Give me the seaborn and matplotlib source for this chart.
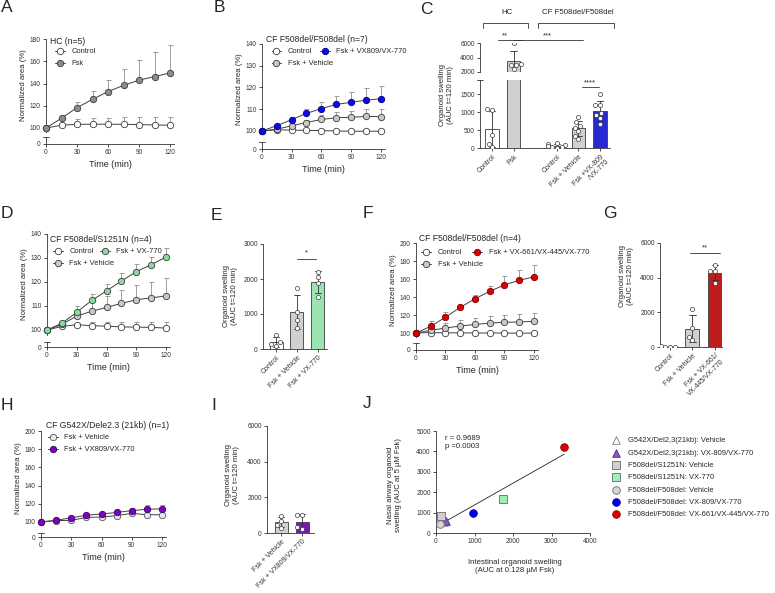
import numpy as np
import pandas as pd
import matplotlib
matplotlib.use("Agg")
import matplotlib.pyplot as plt
import seaborn as sns
from matplotlib.legend import Legend

# ---------------- data ----------------
times = [0, 15, 30, 45, 60, 75, 90, 105, 120]

# A  HC (n=5)
a_control = [100, 102.5, 103.3, 103.4, 103.4, 103.3, 103.1, 102.7, 102.5]
a_control_sd = [0, 5, 4.5, 5.5, 6, 6.3, 6.5, 7, 7.2]
a_fsk = [100, 108.8, 118.3, 125.8, 132.7, 138.3, 143.0, 146.2, 149.5]
a_fsk_sd = [0, 1.5, 5, 7.5, 10.5, 15, 18.5, 22, 25]

# B  CF F508del/F508del (n=7)
b_control = [100, 100.6, 100.4, 100.3, 100.2, 100.0, 99.9, 99.9, 99.9]
b_control_sd = [0, 0.5, 0.6, 0.6, 0.7, 0.8, 0.8, 0.9, 1.0]
b_vehicle = [100, 100.8, 102.4, 103.9, 105.3, 106.1, 106.3, 106.7, 106.6]
b_vehicle_sd = [0, 0.5, 1.0, 1.3, 2.0, 2.6, 2.9, 3.4, 3.5]
b_vx809 = [100, 102.4, 105.2, 108.1, 110.3, 112.2, 113.2, 114.2, 114.8]
b_vx809_sd = [0, 0.4, 1.4, 2.0, 3.2, 3.8, 4.9, 5.4, 6.0]

# D  CF F508del/S1251N (n=4)
d_control = [100, 101.5, 102.2, 101.8, 101.6, 101.3, 101.2, 101.1, 100.8]
d_control_sd = [0, 1.5, 0.8, 1.4, 1.9, 2.2, 2.3, 2.4, 2.7]
d_vehicle = [100, 102.4, 105.8, 107.8, 109.4, 111.1, 112.6, 113.4, 114.2]
d_vehicle_sd = [0, 1.1, 1.7, 4.4, 4.6, 5.4, 6.2, 6.8, 7.5]
d_vx770 = [100, 102.8, 107.4, 112.3, 116.3, 120.4, 124.3, 127.2, 130.4]
d_vx770_sd = [0, 0.7, 2.6, 2.8, 2.8, 3.4, 3.1, 3.2, 3.6]

# F  CF F508del/F508del (n=4)
f_control = [100, 100.4, 100.2, 100.2, 100.0, 100.0, 100.0, 99.8, 99.9]
f_control_sd = [0, 0.5, 0.5, 0.5, 0.5, 0.5, 0.5, 0.5, 0.5]
f_vehicle = [100, 103.0, 105.5, 107.8, 109.5, 111.0, 112.0, 112.2, 113.0]
f_vehicle_sd = [0, 4, 5.5, 6.2, 7.5, 8, 8.5, 8.8, 9]
f_triple = [100, 107.5, 117.5, 128.5, 138.0, 146.3, 153.5, 158.5, 162.5]
f_triple_sd = [0, 5.5, 5.5, 1.5, 4, 5.7, 10, 11.5, 13]

# H  CF G542X/Dele2.3 (21kb) (n=1)
h_vehicle = [100, 101.5, 101.8, 105.0, 105.5, 107.0, 109.5, 108.0, 108.0]
h_vehicle_sd = [0, 0.5, 0.5, 0.8, 0.8, 1.0, 1.5, 1.0, 1.0]
h_vx809 = [100, 102.0, 104.5, 107.5, 108.8, 110.5, 112.5, 114.0, 114.5]
h_vx809_sd = [0, 1, 1, 1, 1.2, 1.5, 3, 4.5, 4]

# C  AUC bars (individual organoid points)
c_groups = ["HC Control", "HC Fsk", "CF Control", "CF Fsk + Vehicle", "CF Fsk + VX-809/VX-770"]
c_ticklabels = ["Control", "Fsk", "Control", "Fsk + Vehicle", "Fsk +VX-809\n/VX-770"]
c_values = [
    [1090, 1050, 350, 120, 20],
    [6000, 3100, 3000, 2950, 2400],
    [150, 110, 80, 60, 40, 20, 10],
    [860, 720, 620, 560, 460, 340, 240],
    [1500, 1200, 1190, 970, 920, 830, 670],
]

# E
e_groups = ["Control", "Fsk + Vehicle", "Fsk + VX-770"]
e_values = [[400, 190, 130, 100], [1740, 1070, 840, 600], [2210, 2050, 1900, 1500]]

# G
g_groups = ["Control", "Fsk + Vehicle", "Fsk + VX-661/\nVX-445/VX-770"]
g_values = [[30, 20, 15, 10], [2180, 1080, 600, 400], [4750, 4360, 4360, 3690]]

# I
i_groups = ["Fsk + Vehicle", "Fsk + VX809/VX-770"]
i_values = [[980, 700, 450, 300], [990, 990, 340, 240]]

# J  correlation
j_groups = ["G542X/Del2,3(21kb): Vehicle", "G542X/Del2,3(21kb): VX-809/VX-770",
            "F508del/S1251N: Vehicle", "F508del/S1251N: VX-770",
            "F508del/F508del: Vehicle", "F508del/F508del: VX-809/VX-770",
            "F508del/F508del: VX-661/VX-445/VX-770"]
j_intestinal = [200, 250, 130, 1750, 110, 950, 3330]
j_nasal = [540, 600, 850, 1680, 460, 980, 4200]

# ---------------- style ----------------
sns.set_style("ticks")
plt.rcParams["font.family"] = ["Liberation Sans", "DejaVu Sans"]
plt.rcParams["axes.facecolor"] = "none"
plt.rcParams["axes.linewidth"] = 0.6
plt.rcParams["axes.edgecolor"] = "#333333"
for t in ("xtick", "ytick"):
    plt.rcParams[t + ".major.width"] = 0.6
    plt.rcParams[t + ".major.size"] = 2.2
    plt.rcParams[t + ".major.pad"] = 1.5
    plt.rcParams[t + ".labelsize"] = 4.7
    plt.rcParams[t + ".color"] = "#333333"

GREY = "#d0d0d0"
EDGE = "#3c3c3c"
BLUE = "#0a0af0"
GREEN = "#8ff0ae"
RED = "#dd0000"
PURPLE = "#8000c8"

W, H = 775, 593
fig = plt.figure(figsize=(W / 100, H / 100), dpi=100)


def px_axes(left, top, right, bottom):
    return fig.add_axes([left / W, 1 - bottom / H, (right - left) / W, (bottom - top) / H])


def fig_text(x, y, s, **kw):
    fig.text(x / W, 1 - y / H, s, **kw)


def top_cap(ax, width_px):
    f = 3 / width_px
    ax.plot([-f, f], [1, 1], transform=ax.transAxes, color="#333333", lw=0.6, clip_on=False)


def time_panel(x0, x120, y_top, y100, y_base, y_low, y_zero, ymax, yticks,
               series, title, title_xy, columns):
    ppm = (x120 - x0) / 120
    right = x0 + 124 * ppm
    ppu = (y100 - y_top) / (ymax - 100)
    ax = px_axes(x0, y_top, right, y_base)
    low = px_axes(x0, y_low, right, y_zero)
    for name, mean, sd, face, edge in series:
        ax.errorbar(times, mean, yerr=[np.zeros(len(sd)), sd], fmt="none", ecolor="#8e8e8e",
                    elinewidth=0.6, capsize=1.8, capthick=0.6, zorder=2, clip_on=False)
        sns.lineplot(x=times, y=mean, ax=ax, color="#404040", linewidth=0.7, marker="o",
                     markersize=4.6, markerfacecolor=face, markeredgecolor=edge,
                     markeredgewidth=0.6, label=name, zorder=3, clip_on=False, legend=False)
    ax.set_xlim(0, 124)
    ax.set_ylim(100 - (y_base - y100) / ppu, ymax)
    ax.set_yticks(yticks)
    ax.set_xticks([])
    sns.despine(ax=ax, bottom=True)
    ax.set_ylabel("Normalized area (%)", fontsize=5.6, labelpad=2)
    low.set_xlim(0, 124)
    low.set_ylim(0, 1)
    low.set_yticks([0])
    low.set_xticks(times[::2])
    sns.despine(ax=low)
    low.set_xlabel("Time (min)", fontsize=6.5, labelpad=3)
    top_cap(low, right - x0)
    fig_text(title_xy[0], title_xy[1], title, fontsize=6.2, va="center")
    handles, labels = ax.get_legend_handles_labels()
    lookup = dict(zip(labels, handles))
    for names, lx, ly in columns:
        leg = Legend(ax, [lookup[n] for n in names], names, loc="upper left",
                     bbox_to_anchor=(lx / W, 1 - ly / H), bbox_transform=fig.transFigure,
                     frameon=False, fontsize=5.4, handlelength=1.3, handletextpad=0.85,
                     labelspacing=0.65, borderpad=0, borderaxespad=0)
        ax.add_artist(leg)
    return ax, low


def bar_panel(ax, groups, values, colors, order):
    df = pd.DataFrame({"group": np.repeat(groups, [len(v) for v in values]),
                       "value": np.concatenate(values)})
    sns.barplot(data=df, x="group", y="value", order=order, hue="group", hue_order=groups,
                palette=dict(zip(groups, colors)), errorbar="sd", capsize=0.3,
                err_kws={"linewidth": 0.6, "color": "#303030"}, edgecolor=EDGE,
                linewidth=0.6, width=0.62, legend=False, ax=ax)
    sns.swarmplot(data=df, x="group", y="value", order=order, color="white",
                  edgecolor=EDGE, linewidth=0.5, size=3, ax=ax)
    ax.set_xlabel("")
    ax.set_ylabel("")
    sns.despine(ax=ax)


def sig(ax, x1, x2, y, stars, xt, off):
    ax.plot([x1, x2], [y, y], color="#333333", lw=0.6, clip_on=False)
    ax.annotate(stars, (xt, y), xytext=(0, off), textcoords="offset points", ha="center",
                va="baseline", fontsize=5.5, annotation_clip=False)


def rot_labels(ax, ticks, labels):
    ax.set_xticks(ticks)
    ax.set_xticklabels(labels, rotation=45, ha="right", rotation_mode="anchor", fontsize=5)


# ---------------- A ----------------
time_panel(46, 170, 39, 128, 131.5, 137, 144, 180, [100, 120, 140, 160, 180],
           [("Control", a_control, a_control_sd, "white", EDGE),
            ("Fsk", a_fsk, a_fsk_sd, "#8c8c8c", EDGE)],
           "HC (n=5)", (50, 41), [(["Control", "Fsk"], 55, 48)])

# ---------------- B ----------------
time_panel(261.7, 381, 44, 131, 133.5, 142, 149, 140, [100, 110, 120, 130, 140],
           [("Control", b_control, b_control_sd, "white", EDGE),
            ("Fsk + Vehicle", b_vehicle, b_vehicle_sd, "#c8c8c8", EDGE),
            ("Fsk + VX809/VX-770", b_vx809, b_vx809_sd, BLUE, "#00008a")],
           "CF F508del/F508del (n=7)", (266, 40),
           [(["Control", "Fsk + Vehicle"], 271.5, 48), (["Fsk + VX809/VX-770"], 320, 48)])

# ---------------- C ----------------
c_order = [c_groups[0], c_groups[1], "gap", c_groups[2], c_groups[3], c_groups[4]]
c_colors = ["white", GREY, "white", GREY, BLUE]
ax_cu = px_axes(480, 43, 610, 72)
ax_cl = px_axes(480, 80, 610, 148)
for ax in (ax_cu, ax_cl):
    bar_panel(ax, c_groups, c_values, c_colors, c_order)
    ax.set_xlim(-0.556, 5.463)
ax_cu.set_ylim(2000, 6000)
ax_cu.set_yticks([2000, 4000, 6000])
ax_cu.set_xticks([])
sns.despine(ax=ax_cu, bottom=True)
ax_cl.set_ylim(0, 1890)
ax_cl.set_yticks([0, 500, 1000, 1500])
top_cap(ax_cl, 130)
rot_labels(ax_cl, [0, 1, 3, 4, 5], c_ticklabels)
for x1, x2, lab, xl in [(-0.42, 1.67, "HC", 0.69), (2.13, 5.65, "CF F508del/F508del", 3.98)]:
    ax_cu.plot([x1, x1, x2, x2], [8070, 8760, 8760, 8070], color="#333333", lw=0.6, clip_on=False)
    ax_cu.text(xl, 10140, lab, ha="center", va="center", fontsize=5.7)
sig(ax_cu, 0.28, 1.4, 6414, "**", 0.6, 2)
sig(ax_cu, 1.0, 4.2, 6414, "***", 2.56, 2)
sig(ax_cl, 4.17, 4.94, 1708, "****", 4.55, 1.5)
fig_text(446.5, 95, "Organoid swelling\n(AUC t=120 min)", rotation=90, ha="center",
         va="center", fontsize=5.6)

# ---------------- D ----------------
time_panel(47, 166, 234, 330, 335, 342, 347, 140, [100, 110, 120, 130, 140],
           [("Control", d_control, d_control_sd, "white", EDGE),
            ("Fsk + Vehicle", d_vehicle, d_vehicle_sd, "#c8c8c8", EDGE),
            ("Fsk + VX-770", d_vx770, d_vx770_sd, "#86dca0", EDGE)],
           "CF F508del/S1251N (n=4)", (50.5, 239),
           [(["Control", "Fsk + Vehicle"], 53, 248), (["Fsk + VX-770"], 100, 248)])

# ---------------- E ----------------
ax_e = px_axes(263, 244, 327, 349)
bar_panel(ax_e, e_groups, e_values, ["white", GREY, GREEN], e_groups)
ax_e.set_xlim(-0.62, 2.43)
ax_e.set_ylim(0, 3000)
ax_e.set_yticks([0, 1000, 2000, 3000])
rot_labels(ax_e, [0, 1, 2], e_groups)
sig(ax_e, 0.98, 1.9, 2571, "*", 1.44, 3.3)
fig_text(231, 296, "Organoid swelling\n(AUC t=120 min)", rotation=90, ha="center",
         va="center", fontsize=5.6)

# ---------------- F ----------------
time_panel(416, 534, 243, 333, 337, 343, 350, 200, [100, 120, 140, 160, 180, 200],
           [("Control", f_control, f_control_sd, "white", EDGE),
            ("Fsk + Vehicle", f_vehicle, f_vehicle_sd, "#c8c8c8", EDGE),
            ("Fsk + VX-661/VX-445/VX-770", f_triple, f_triple_sd, RED, "#7a0000")],
           "CF F508del/F508del (n=4)", (419, 238),
           [(["Control", "Fsk + Vehicle"], 421.5, 249),
            (["Fsk + VX-661/VX-445/VX-770"], 472.5, 249)])

# ---------------- G ----------------
ax_g = px_axes(660, 243, 722, 347)
bar_panel(ax_g, g_groups, g_values, ["white", GREY, RED], g_groups)
ax_g.set_xlim(-0.44, 2.31)
ax_g.set_ylim(0, 6000)
ax_g.set_yticks([0, 2000, 4000, 6000])
rot_labels(ax_g, [0, 1, 2], g_groups)
sig(ax_g, 0.9, 2.2, 5423, "**", 1.55, 2.6)
fig_text(626, 276, "Organoid swelling\n(AUC t=120 min)", rotation=90, ha="center",
         va="center", fontsize=5.6)

# ---------------- H ----------------
time_panel(41, 162, 431, 522, 525, 533, 537, 200, [100, 120, 140, 160, 180, 200],
           [("Fsk + Vehicle", h_vehicle, h_vehicle_sd, "#e8e8e8", "#555555"),
            ("Fsk + VX809/VX-770", h_vx809, h_vx809_sd, PURPLE, "#3c005c")],
           "CF G542X/Dele2.3 (21kb) (n=1)", (46, 426),
           [(["Fsk + Vehicle", "Fsk + VX809/VX-770"], 48, 434)])

# ---------------- I ----------------
ax_i = px_axes(267, 426, 314, 533)
bar_panel(ax_i, i_groups, i_values, [GREY, PURPLE], i_groups)
ax_i.set_xlim(-0.67, 1.57)
ax_i.set_ylim(0, 6000)
ax_i.set_yticks([0, 2000, 4000, 6000])
rot_labels(ax_i, [0, 1], i_groups)
fig_text(232.5, 475, "Organoid swelling\n(AUC t=120 min)", rotation=90, ha="center",
         va="center", fontsize=5.6)

# ---------------- J ----------------
ax_j = px_axes(436, 431, 590, 533)
j_markers = ["^", "^", "s", "s", "o", "o", "o"]
j_face = ["white", "#8a55c8", "#cfcfcf", "#9eefb6", "#d6d6d6", "#0000f0", "#e00000"]
j_edge = ["#7a7a7a", "#4a2a7a", "#6a6a6a", "#6a6a6a", "#6a6a6a", "#00008a", "#8a0000"]
sns.regplot(x=j_intestinal, y=j_nasal, ci=None, scatter=False, ax=ax_j,
            line_kws={"color": "#222222", "lw": 0.6})
for lab, xi, yi, m, fc, ec in zip(j_groups, j_intestinal, j_nasal, j_markers, j_face, j_edge):
    sns.scatterplot(x=[xi], y=[yi], marker=m, color=fc, edgecolor=ec, linewidth=0.6, s=30,
                    label=lab, ax=ax_j, clip_on=False, zorder=3, legend=False)
ax_j.set_xlim(0, 4000)
ax_j.set_ylim(0, 5000)
ax_j.set_xticks([0, 1000, 2000, 3000, 4000])
ax_j.set_yticks([0, 1000, 2000, 3000, 4000, 5000])
sns.despine(ax=ax_j)
h, l = ax_j.get_legend_handles_labels()
leg = Legend(ax_j, h, l, loc="upper left", bbox_to_anchor=(613 / W, 1 - 437 / H),
             bbox_transform=fig.transFigure, frameon=False, fontsize=5.4, handlelength=0.9,
             handletextpad=1.1, labelspacing=0.68, borderpad=0, borderaxespad=0)
ax_j.add_artist(leg)
fig_text(445, 438, "r = 0.9689", fontsize=5.6, va="center")
fig_text(445, 447, "p =0.0003", fontsize=5.6, va="center")
fig_text(395, 485, "Nasal airway organoid\nswelling (AUC at 5 \u00b5M Fsk)", rotation=90,
         ha="center", va="center", fontsize=5.6)
fig_text(515, 567, "Intestinal organoid swelling\n(AUC at 0.128 \u00b5M Fsk)", ha="center",
         va="center", fontsize=5.6)

# ---------------- panel letters ----------------
for letter, x, y in [("A", 1, 8), ("B", 214, 8), ("C", 420, 9), ("D", 1, 213), ("E", 211, 215),
                     ("F", 363, 213), ("G", 603, 214), ("H", 1, 406), ("I", 211, 406),
                     ("J", 363, 404)]:
    fig_text(x, y, letter, fontsize=12.5, va="center", ha="left")

fig.savefig("out.png", dpi=100, facecolor="white")
